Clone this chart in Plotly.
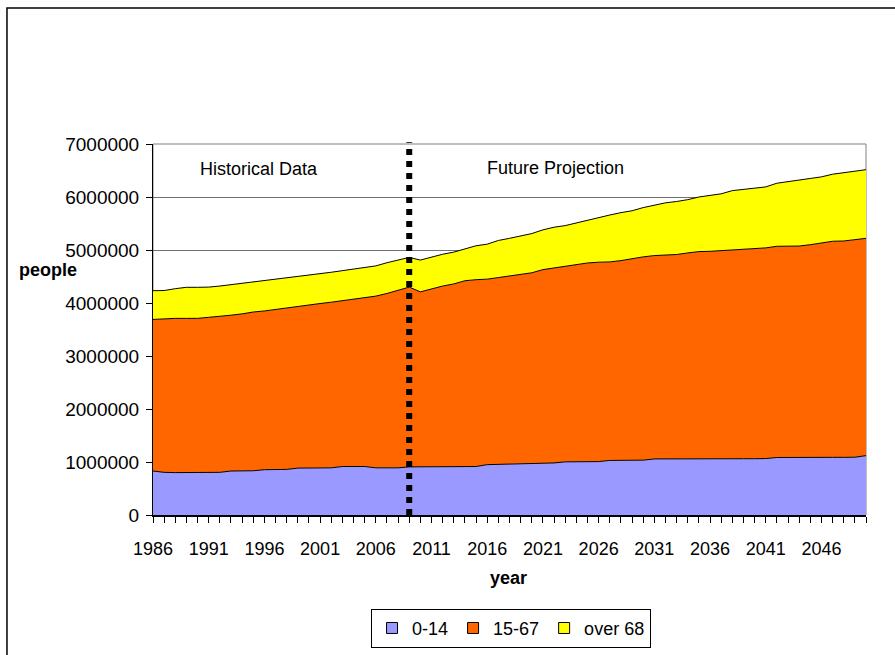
import plotly.graph_objects as go

# Population by age group, 1986-2050 (history to 2009, projection afterwards)
years = list(range(1986, 2051))

age_0_14 = [
    830, 805, 800, 800, 800, 800, 805, 830, 830, 835,
    855, 855, 860, 885, 887, 887, 890, 915, 918, 915,
    890, 887, 890, 908, 910, 910, 910, 910, 912, 915,
    950, 955, 955, 960, 978, 980, 982, 1003, 1005, 1006,
    1008, 1030, 1030, 1032, 1035, 1058, 1060, 1060, 1060, 1060,
    1060, 1060, 1060, 1062, 1062, 1065, 1085, 1088, 1088, 1088,
    1088, 1088, 1088, 1090, 1120,
]
age_15_67 = [
    2860, 2900, 2910, 2910, 2910, 2930, 2940, 2940, 2965, 2995,
    2995, 3025, 3045, 3045, 3073, 3103, 3125, 3130, 3152, 3185,
    3240, 3293, 3350, 3392, 3300, 3360, 3410, 3450, 3508, 3525,
    3500, 3525, 3555, 3580, 3592, 3650, 3678, 3687, 3715, 3749,
    3762, 3745, 3770, 3808, 3835, 3837, 3850, 3855, 3885, 3910,
    3915, 3930, 3945, 3958, 3963, 3975, 3985, 3987, 3987, 4012,
    4047, 4077, 4082, 4100, 4100,
]
age_over_68 = [
    542, 530, 560, 586, 586, 570, 575, 575, 575, 570,
    580, 565, 565, 570, 565, 560, 565, 565, 570, 570,
    570, 580, 570, 560, 600, 600, 600, 600, 600, 640,
    660, 700, 710, 720, 740, 750, 770, 770, 790, 815,
    840, 885, 905, 900, 930, 945, 980, 1000, 1005, 1030,
    1055, 1070, 1115, 1120, 1145, 1150, 1190, 1215, 1245, 1250,
    1245, 1265, 1290, 1300, 1295,
]

series_names = ["0-14", "15-67", "over 68"]
series_values = [age_0_14, age_15_67, age_over_68]
series_colors = ["#9999FF", "#FF6600", "#FFFF00"]

split_year = 2009
label_years = list(range(1986, 2050, 5))
y_ticks = list(range(0, 7000001, 1000000))

FONT = "Liberation Sans, Arial, sans-serif"

fig = go.Figure()
for name, vals, color in zip(series_names, series_values, series_colors):
    fig.add_trace(go.Scatter(
        x=years,
        y=[v * 1000 for v in vals],
        name=name,
        mode="lines",
        stackgroup="pop",
        line=dict(color="black", width=1),
        fillcolor=color,
        showlegend=False,
    ))

# Square swatches for the legend
for name, color in zip(series_names, series_colors):
    fig.add_trace(go.Scatter(
        x=[None], y=[None], name=name, mode="markers",
        marker=dict(symbol="square", size=11, color=color,
                    line=dict(color="black", width=1)),
        showlegend=True,
    ))

# Boundary between historical data and projection
fig.add_shape(
    type="line", xref="x", yref="paper",
    x0=split_year, x1=split_year, y0=0, y1=1.005,
    line=dict(color="black", width=6, dash="6px,6px"),
    layer="above",
)

# Plot-area frame and outer chart frame
fig.add_shape(type="rect", xref="paper", yref="paper", x0=0, x1=1, y0=0, y1=1,
              line=dict(color="#808080", width=1), layer="below")
fig.add_shape(type="rect", xref="paper", yref="paper",
              x0=-0.2048, x1=1.2, y0=-0.6, y1=1.3666,
              line=dict(color="black", width=1.5))

fig.add_annotation(x=1995.5, y=6530000, text="Historical Data", showarrow=False,
                   font=dict(family=FONT, size=18, color="black"))
fig.add_annotation(x=2022.1, y=6550000, text="Future Projection", showarrow=False,
                   font=dict(family=FONT, size=18, color="black"))
fig.add_annotation(xref="paper", yref="paper", x=-0.147, y=0.66, text="<b>people</b>",
                   xanchor="center", yanchor="middle",
                   showarrow=False, font=dict(family=FONT, size=18, color="black"))
fig.add_annotation(xref="paper", yref="paper", x=0.498, y=-0.17, text="<b>year</b>",
                   xanchor="center", yanchor="middle",
                   showarrow=False, font=dict(family=FONT, size=18, color="black"))

fig.update_layout(
    width=895, height=655,
    margin=dict(l=153, r=29, t=144, b=140, autoexpand=False),
    paper_bgcolor="white",
    plot_bgcolor="white",
    font=dict(family=FONT, size=18, color="black"),
    showlegend=True,
    legend=dict(
        orientation="h",
        xref="container", yref="container",
        x=0.571, xanchor="center",
        y=0.011, yanchor="bottom",
        bordercolor="black", borderwidth=1,
        font=dict(family=FONT, size=18),
        itemwidth=30,
        traceorder="normal",
        tracegroupgap=0,
    ),
    xaxis=dict(
        range=[1986, 2050],
        tickvals=label_years,
        ticktext=[str(y) for y in label_years],
        ticks="outside", ticklen=6, tickcolor="black",
        minor=dict(dtick=1, tick0=1986, ticks="outside", ticklen=6,
                   tickcolor="black", showgrid=False),
        showline=True, linecolor="black", linewidth=1.5,
        showgrid=False, zeroline=False,
        tickfont=dict(family=FONT, size=18),
        ticklabelstandoff=11,
    ),
    yaxis=dict(
        range=[0, 7000000],
        tickvals=y_ticks,
        tickformat="d",
        ticks="outside", ticklen=6, tickcolor="black",
        showline=True, linecolor="black", linewidth=1,
        showgrid=True, gridcolor="#707070", gridwidth=1,
        zeroline=False,
        tickfont=dict(family=FONT, size=19),
        ticklabelstandoff=3,
    ),
)

fig.write_html("out.html")
